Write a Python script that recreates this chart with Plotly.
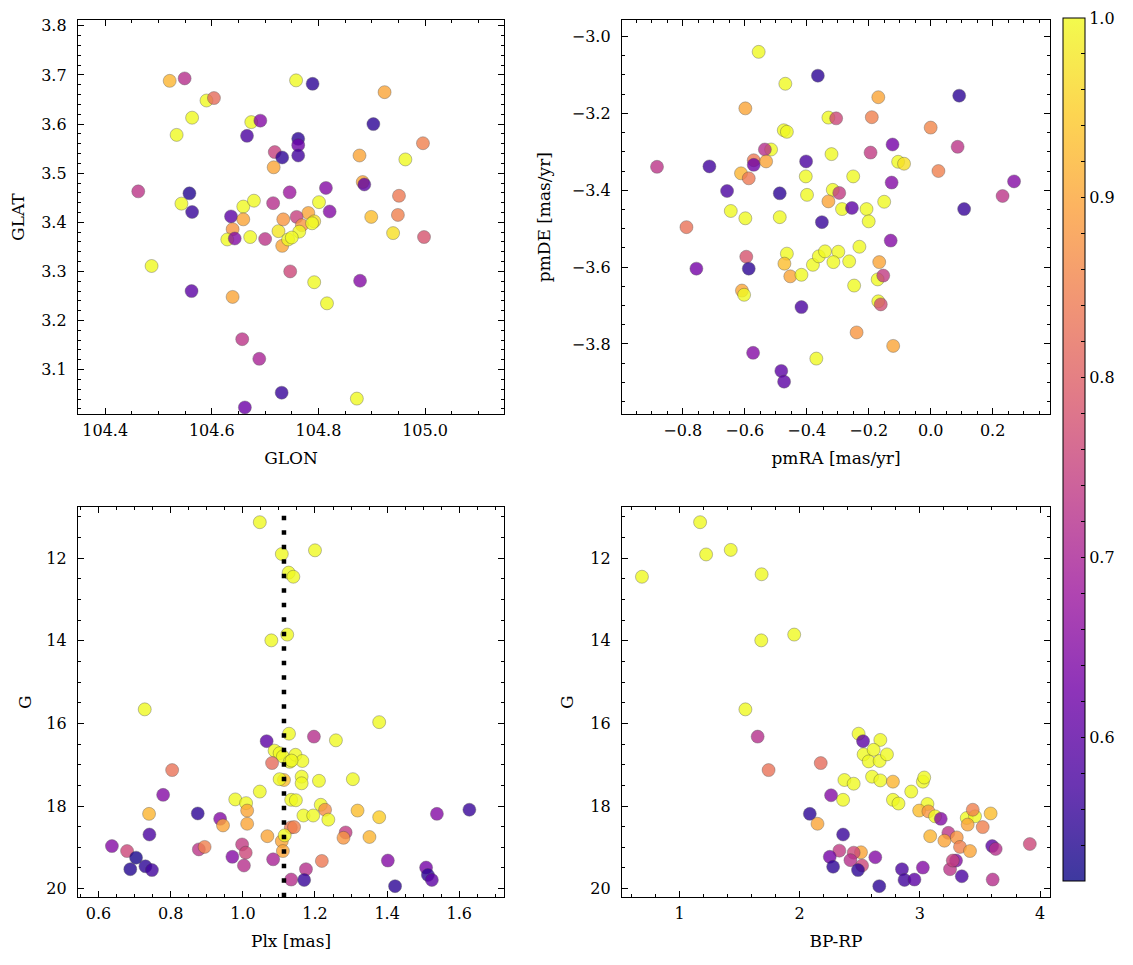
import plotly.graph_objects as go

# ---------------- data ----------------
# Top-left: GLON / GLAT
glon = [104.521, 104.549, 104.590, 104.604, 104.563, 104.534, 104.674, 104.691, 104.666, 104.718,
        104.732, 104.716, 104.462, 104.558, 104.543, 104.563, 104.659, 104.679, 104.715, 104.746,
        104.636, 104.659, 104.639, 104.629, 104.643, 104.672, 104.700, 104.725, 104.734, 104.732,
        104.743, 104.487, 104.562, 104.639, 104.747, 104.657, 104.689, 104.731, 104.662, 104.758,
        104.789, 104.762, 104.762, 104.762, 104.924, 104.903, 104.996, 104.877, 104.963, 104.883,
        104.886, 104.814, 104.951, 104.801, 104.821, 104.899, 104.949, 104.940, 104.998, 104.781,
        104.792, 104.759, 104.769, 104.764, 104.750, 104.788, 104.792, 104.878, 104.816, 104.872]
glat = [3.688, 3.693, 3.648, 3.653, 3.613, 3.578, 3.604, 3.607, 3.576, 3.543,
        3.532, 3.512, 3.463, 3.459, 3.438, 3.421, 3.432, 3.444, 3.439, 3.461,
        3.412, 3.406, 3.386, 3.365, 3.367, 3.370, 3.366, 3.382, 3.406, 3.352,
        3.365, 3.311, 3.260, 3.248, 3.300, 3.162, 3.122, 3.053, 3.023, 3.689,
        3.682, 3.570, 3.557, 3.536, 3.665, 3.600, 3.561, 3.536, 3.528, 3.482,
        3.477, 3.470, 3.454, 3.441, 3.422, 3.411, 3.415, 3.378, 3.370, 3.419,
        3.402, 3.411, 3.394, 3.381, 3.369, 3.398, 3.278, 3.281, 3.235, 3.041]
prob_tl = [0.92, 0.72, 1.00, 0.82, 1.00, 1.00, 1.00, 0.65, 0.58, 0.75,
           0.55, 0.90, 0.73, 0.54, 1.00, 0.56, 1.00, 1.00, 0.72, 0.68,
           0.60, 0.90, 0.88, 1.00, 0.65, 1.00, 0.73, 0.98, 0.88, 0.90,
           1.00, 1.00, 0.60, 0.90, 0.76, 0.73, 0.70, 0.56, 0.62, 1.00,
           0.55, 0.55, 0.62, 0.57, 0.90, 0.55, 0.85, 0.90, 1.00, 0.90,
           0.60, 0.65, 0.84, 1.00, 0.65, 0.93, 0.85, 0.97, 0.78, 0.90,
           0.97, 0.75, 0.88, 1.00, 1.00, 1.00, 1.00, 0.65, 1.00, 1.00]

# Top-right: pmRA / pmDE
pmra = [-0.883, -0.714, -0.555, -0.364, -0.469, -0.598, -0.474, -0.464, -0.515, -0.535,
        -0.571, -0.571, -0.531, -0.612, -0.587, -0.402, -0.403, -0.657, -0.487, -0.399,
        -0.645, -0.598, -0.487, -0.788, -0.595, -0.756, -0.587, -0.464, -0.472, -0.453,
        -0.417, -0.380, -0.361, -0.609, -0.602, -0.417, -0.573, -0.482, -0.473, -0.369,
        -0.351, -0.169, 0.092, -0.330, -0.305, -0.190, 0.000, -0.320, -0.194, -0.123,
        0.087, -0.105, -0.086, 0.025, -0.250, -0.126, 0.269, 0.232, 0.108, -0.316,
        -0.295, -0.330, -0.286, -0.254, -0.207, -0.200, -0.150, -0.129, -0.341, -0.298,
        -0.314, -0.263, -0.230, -0.166, -0.171, -0.153, -0.247, -0.169, -0.161, -0.239,
        -0.121]
pmde = [-3.339, -3.338, -3.040, -3.102, -3.123, -3.187, -3.244, -3.248, -3.294, -3.294,
        -3.322, -3.334, -3.325, -3.356, -3.369, -3.325, -3.364, -3.402, -3.408, -3.412,
        -3.454, -3.473, -3.470, -3.496, -3.573, -3.604, -3.604, -3.565, -3.591, -3.624,
        -3.620, -3.594, -3.572, -3.661, -3.672, -3.704, -3.823, -3.870, -3.898, -3.838,
        -3.483, -3.158, -3.154, -3.211, -3.213, -3.210, -3.237, -3.306, -3.302, -3.281,
        -3.287, -3.326, -3.331, -3.350, -3.364, -3.380, -3.377, -3.415, -3.449, -3.399,
        -3.407, -3.429, -3.449, -3.446, -3.449, -3.481, -3.430, -3.531, -3.559, -3.560,
        -3.587, -3.585, -3.547, -3.587, -3.632, -3.622, -3.648, -3.689, -3.697, -3.770,
        -3.805]
prob_tr = [0.73, 0.57, 1.00, 0.55, 1.00, 0.90, 1.00, 1.00, 1.00, 0.72,
           0.84, 0.62, 0.90, 0.92, 0.84, 0.58, 1.00, 0.58, 0.55, 1.00,
           1.00, 1.00, 1.00, 0.83, 0.78, 0.63, 0.55, 1.00, 0.93, 0.90,
           1.00, 1.00, 1.00, 0.90, 1.00, 0.58, 0.65, 0.60, 0.60, 1.00,
           0.56, 0.90, 0.55, 1.00, 0.76, 0.85, 0.86, 1.00, 0.74, 0.63,
           0.73, 1.00, 0.97, 0.85, 1.00, 0.65, 0.65, 0.73, 0.56, 1.00,
           0.74, 0.90, 1.00, 0.60, 1.00, 1.00, 1.00, 0.65, 1.00, 1.00,
           1.00, 1.00, 1.00, 0.90, 1.00, 0.74, 1.00, 1.00, 0.77, 0.88,
           0.90]

# Bottom-left: Plx / G
plx = [1.047, 1.108, 1.127, 1.140, 1.079, 1.123, 0.728, 1.066, 1.128, 1.088,
       1.102, 1.111, 1.130, 1.081, 1.114, 1.102, 0.804, 0.779, 1.047, 0.979,
       1.009, 1.012, 1.134, 0.740, 0.875, 1.012, 0.937, 0.945, 1.068, 1.133,
       1.108, 1.116, 1.111, 0.741, 0.637, 0.679, 0.704, 0.688, 0.730, 0.748,
       0.878, 0.894, 0.998, 1.008, 0.971, 1.003, 1.084, 1.134, 1.200, 1.197,
       1.258, 1.378, 1.146, 1.165, 1.135, 1.163, 1.163, 1.211, 1.305, 1.147,
       1.216, 1.228, 1.168, 1.195, 1.237, 1.318, 1.378, 1.142, 1.285, 1.279,
       1.351, 1.538, 1.628, 1.219, 1.175, 1.170, 1.402, 1.508, 1.513, 1.524,
       1.422]
g_bl = [11.13, 11.90, 12.35, 12.45, 13.99, 13.85, 15.66, 16.43, 16.25, 16.66,
        16.72, 16.80, 16.93, 16.96, 17.37, 17.35, 17.13, 17.73, 17.65, 17.84,
        17.93, 18.11, 17.85, 18.19, 18.18, 18.43, 18.31, 18.47, 18.73, 18.52,
        18.85, 18.71, 19.09, 18.69, 18.97, 19.09, 19.25, 19.53, 19.46, 19.55,
        19.05, 18.99, 18.93, 19.13, 19.23, 19.44, 19.29, 19.78, 11.81, 16.32,
        16.41, 15.97, 16.76, 16.91, 16.90, 17.29, 17.45, 17.39, 17.35, 17.86,
        17.97, 18.09, 18.23, 18.23, 18.33, 18.11, 18.27, 18.51, 18.64, 18.77,
        18.75, 18.19, 18.09, 19.33, 19.53, 19.79, 19.32, 19.49, 19.67, 19.79,
        19.94]
prob_bl = [1.00, 1.00, 1.00, 1.00, 1.00, 1.00, 1.00, 0.60, 1.00, 1.00,
           1.00, 1.00, 1.00, 0.82, 0.93, 1.00, 0.83, 0.65, 1.00, 1.00,
           1.00, 0.90, 1.00, 0.92, 0.55, 0.90, 0.65, 0.90, 0.90, 0.84,
           0.90, 1.00, 0.90, 0.58, 0.65, 0.76, 0.53, 0.54, 0.55, 0.57,
           0.73, 0.85, 0.74, 0.76, 0.65, 0.72, 0.70, 0.72, 1.00, 0.72,
           1.00, 1.00, 1.00, 1.00, 1.00, 1.00, 1.00, 1.00, 1.00, 1.00,
           1.00, 0.87, 1.00, 1.00, 1.00, 0.93, 0.95, 0.85, 0.74, 0.88,
           0.92, 0.65, 0.56, 0.84, 0.72, 0.56, 0.65, 0.63, 0.55, 0.60,
           0.55]

# Bottom-right: BP-RP / G
bprp = [0.687, 1.171, 1.221, 1.426, 1.683, 1.680, 1.954, 1.548, 1.650, 1.741,
        2.175, 2.084, 2.148, 2.490, 2.527, 2.671, 2.532, 2.615, 2.574, 2.665,
        2.726, 2.602, 2.671, 2.776, 2.372, 2.449, 2.261, 2.361, 2.776, 2.822,
        2.928, 3.025, 3.036, 3.063, 2.994, 3.071, 3.127, 3.174, 3.086, 3.237,
        3.307, 3.204, 3.334, 3.417, 3.390, 3.459, 3.440, 3.398, 3.523, 3.589,
        3.602, 3.631, 3.915, 3.606, 3.251, 3.301, 3.274, 3.349, 3.025, 2.851,
        2.872, 2.955, 2.662, 2.629, 2.519, 2.510, 2.449, 2.422, 2.485, 2.330,
        2.250, 2.278, 2.361]
g_br = [12.45, 11.13, 11.91, 11.80, 12.39, 13.99, 13.85, 15.66, 16.32, 17.13,
        16.96, 18.19, 18.43, 16.25, 16.43, 16.40, 16.75, 16.64, 16.92, 16.91,
        16.75, 17.29, 17.38, 17.41, 17.37, 17.46, 17.74, 17.85, 17.85, 17.94,
        17.65, 17.41, 17.31, 17.95, 18.11, 18.13, 18.25, 18.31, 18.73, 18.65,
        18.76, 18.84, 18.99, 19.09, 18.29, 18.25, 18.09, 18.45, 18.51, 18.18,
        18.97, 19.04, 18.92, 19.78, 19.53, 19.32, 19.32, 19.70, 19.49, 19.53,
        19.79, 19.78, 19.94, 19.24, 19.44, 19.12, 19.13, 19.31, 19.55, 19.08,
        19.23, 19.47, 18.69]
prob_br = [1.00, 1.00, 1.00, 1.00, 1.00, 1.00, 1.00, 1.00, 0.72, 0.83,
           0.82, 0.55, 0.90, 1.00, 0.60, 1.00, 1.00, 1.00, 1.00, 1.00,
           1.00, 1.00, 1.00, 0.92, 1.00, 1.00, 0.65, 1.00, 1.00, 1.00,
           1.00, 1.00, 1.00, 1.00, 0.93, 0.88, 1.00, 0.65, 0.92, 0.73,
           0.88, 0.90, 0.85, 0.90, 1.00, 1.00, 0.85, 0.90, 0.85, 0.93,
           0.60, 0.72, 0.76, 0.72, 0.73, 0.65, 0.75, 0.58, 0.65, 0.58,
           0.57, 0.60, 0.55, 0.65, 0.76, 0.90, 0.76, 0.72, 0.55, 0.74,
           0.63, 0.55, 0.56]

plx_mean = 1.114
cmin, cmax = 0.52, 1.0

# ---------------- style ----------------
FONT = "DejaVu Serif"
TICK_SIZE = 16
TITLE_SIZE = 17
plasma = ['#0d0887', '#46039f', '#7201a8', '#9c179e', '#bd3786',
          '#d8576b', '#ed7953', '#fb9f3a', '#fdca26', '#f0f921']
ALPHA = 0.8


def blend(hx, a=ALPHA):
    r, g, b = int(hx[1:3], 16), int(hx[3:5], 16), int(hx[5:7], 16)
    f = lambda c: round(c * a + 255 * (1 - a))
    return f"rgb({f(r)},{f(g)},{f(b)})"


plasma_scale = [[i / (len(plasma) - 1), c] for i, c in enumerate(plasma)]
plasma_blend = [[i / (len(plasma) - 1), blend(c)] for i, c in enumerate(plasma)]

W, H = 1133, 965
OX, OY = 8, 8  # page body margin


def px(x):
    return (x - OX) / W


def py(y):
    return 1 - (y - OY) / H


fig = go.Figure()


def add_panel(x, y, c, ax):
    xa = "x" if ax == 1 else f"x{ax}"
    ya = "y" if ax == 1 else f"y{ax}"
    fig.add_trace(go.Scatter(
        x=x, y=y, mode="markers", xaxis=xa, yaxis=ya, showlegend=False,
        marker=dict(size=13, color=c, colorscale=plasma_scale, cmin=cmin, cmax=cmax,
                    opacity=ALPHA, showscale=False,
                    line=dict(width=0.6, color="rgba(60,60,60,0.7)")),
    ))


add_panel(glon, glat, prob_tl, 1)
add_panel(pmra, pmde, prob_tr, 2)
add_panel(plx, g_bl, prob_bl, 3)
add_panel(bprp, g_br, prob_br, 4)

# colorbar carrier
cb_vals = [round(0.52 + 0.02 * i, 2) for i in range(25)]
cb_text = [f"{v:.1f}" if abs(v * 10 - round(v * 10)) < 1e-6 else "" for v in cb_vals]
fig.add_trace(go.Scatter(
    x=[None], y=[None], mode="markers", showlegend=False, xaxis="x", yaxis="y",
    marker=dict(color=[cmin], colorscale=plasma_blend, cmin=cmin, cmax=cmax, showscale=True,
                colorbar=dict(
                    x=px(1063), xanchor="left", y=py(15), yanchor="top",
                    len=(882 - 15) / H, lenmode="fraction", thickness=22,
                    outlinewidth=1, outlinecolor="black",
                    ticks="inside", ticklen=4, tickcolor="black",
                    tickvals=cb_vals, ticktext=cb_text,
                    tickfont=dict(family=FONT, size=TICK_SIZE, color="black"),
                    ypad=0, xpad=0)),
))

# shape: mean parallax line
fig.add_shape(type="line", xref="x3", yref="y3 domain", x0=plx_mean, x1=plx_mean, y0=0, y1=1,
              line=dict(color="black", width=4.5, dash="4.5px,10px"))

dx_left = [px(78), px(504)]
dx_right = [px(622), px(1050)]
dy_top = [py(413), py(17)]
dy_bot = [py(898), py(506)]


def axis(domain, rng, dtick, minor, title, anchor, is_x, tick0=0, fmt=None, standoff=None):
    if standoff is None:
        standoff = 13 if is_x else 16
    d = dict(domain=domain, range=rng, dtick=dtick, tick0=tick0, anchor=anchor,
             showgrid=False, zeroline=False, showline=True, linecolor="black", linewidth=1.3,
             mirror="allticks", ticks="inside", ticklen=6, tickwidth=1, tickcolor="black",
             tickfont=dict(family=FONT, size=TICK_SIZE, color="black"),
             ticklabelstandoff=1 if is_x else 7,
             title=dict(text=title, font=dict(family=FONT, size=TITLE_SIZE, color="black"),
                        standoff=standoff),
             minor=dict(ticks="inside", ticklen=3, tickwidth=1, tickcolor="black", dtick=minor,
                        tick0=tick0, showgrid=False))
    if fmt:
        d["tickformat"] = fmt
    return d


fig.update_layout(
    width=W, height=H, margin=dict(l=0, r=0, t=0, b=0),
    paper_bgcolor="white", plot_bgcolor="white",
    font=dict(family=FONT, size=TICK_SIZE, color="black"),
    xaxis=axis(dx_left, [104.349, 105.148], 0.2, 0.05, "GLON", "y", True, tick0=104.4, fmt=".1f"),
    yaxis=axis(dy_top, [3.009, 3.812], 0.1, 0.02, "GLAT", "x", False, tick0=3.0, fmt=".1f"),
    xaxis2=axis(dx_right, [-0.996, 0.385], 0.2, 0.05, "pmRA [mas/yr]", "y2", True, fmt=".1f"),
    yaxis2=axis(dy_top, [-3.983, -2.957], 0.2, 0.05, "pmDE [mas/yr]", "x2", False, fmt=".1f"),
    xaxis3=axis(dx_left, [0.543, 1.724], 0.2, 0.05, "Plx [mas]", "y3", True, fmt=".1f"),
    yaxis3=axis(dy_bot, [20.21, 10.76], 2, 0.5, "G", "x3", False, standoff=10),
    xaxis4=axis(dx_right, [0.521, 4.083], 1, 0.2, "BP-RP", "y4", True),
    yaxis4=axis(dy_bot, [20.21, 10.76], 2, 0.5, "G", "x4", False, standoff=12),
)

fig.write_html("out.html")
